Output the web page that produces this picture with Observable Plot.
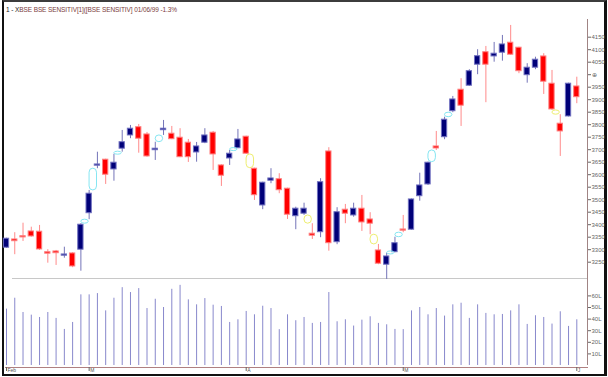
<!DOCTYPE html>
<html><head><meta charset="utf-8">
<script src="https://cdn.jsdelivr.net/npm/d3@7"></script>
<script src="https://cdn.jsdelivr.net/npm/@observablehq/plot@0.6"></script>
<style>
html,body{margin:0;padding:0;background:#fff;}
#wrap{position:relative;width:608px;height:377px;overflow:hidden;background:#fff;font-family:"Liberation Sans",Arial,sans-serif;}
#frame{position:absolute;left:2px;top:0;width:605px;height:376px;box-sizing:border-box;border-top:2px solid #3c3c3c;border-left:2px solid #111;border-right:3px solid #111;border-bottom:2px solid #111;}
#title{position:absolute;left:6px;top:6px;font-size:6.5px;color:#7a3c3c;white-space:nowrap;letter-spacing:-0.1px;}
#title b{font-weight:normal;color:#222;}
#sep{position:absolute;left:12px;top:278px;width:575px;height:1px;background:#c8c8c8;}
#vaxis{position:absolute;left:587px;top:19px;width:1px;height:346px;background:#a08484;}
#haxis{position:absolute;left:5px;top:367px;width:583px;height:1px;background:#b08080;}
svg{position:absolute;left:0;}
</style>
</head><body>
<div id="wrap">
  <div id="frame"></div>
  <div id="title"><b>1 - X</b>BSE BSE SENSITIV[1]([BSE SENSITIV] 01/06/99 -1.3%</div>
  <div id="sep"></div>
  <div id="vaxis"></div>
  <div id="haxis"></div>
</div>
<script>
// ---- data (BSE Sensex daily candles, Feb–Jun 1999) ----
const opens  = [3308,3341,3354,3373,3372,3290,3293,3276,3285,3300,3446,3636,3660,3621,3704,3757,3790,3761,
                3698,3778,3764,3748,3728,3689,3728,3768,3637,3665,3706,3752,3624,3477,3576,3582,3544,3434,
                3444,3364,3370,3693,3330,3460,3437,3464,3421,3297,3240,3290,3381,3380,3514,3561,3713,3750,
                3854,3940,3956,4040,4090,4073,4088,4128,4108,3998,4028,4073,3964,3804,3833,3953];
const highs  = [3346,3368,3406,3390,3397,3300,3297,3310,3288,3404,3537,3690,3662,3682,3777,3797,3801,3769,
                3730,3817,3793,3784,3741,3729,3784,3773,3640,3697,3781,3754,3626,3570,3624,3604,3546,3470,
                3486,3404,3584,3708,3468,3481,3486,3517,3448,3321,3286,3350,3437,3503,3606,3650,3773,3830,
                3913,3984,4020,4100,4113,4129,4157,4197,4110,4044,4070,4084,4017,3840,3966,3990];
const lows   = [3305,3280,3333,3350,3297,3246,3237,3266,3228,3214,3420,3624,3561,3574,3690,3744,3686,3670,
                3657,3757,3740,3668,3649,3650,3724,3617,3553,3637,3704,3681,3497,3460,3564,3524,3421,3380,
                3437,3341,3348,3294,3320,3404,3430,3373,3360,3240,3181,3288,3368,3378,3494,3557,3697,3740,
                3848,3793,3953,4000,3888,4050,4054,4077,4004,3966,4020,3921,3857,3673,3831,3884];
const closes = [3344,3334,3349,3353,3301,3284,3286,3281,3233,3400,3524,3641,3600,3648,3730,3784,3744,3673,
                3704,3784,3742,3670,3670,3713,3757,3681,3596,3684,3741,3684,3518,3568,3585,3538,3440,3464,
                3464,3356,3570,3326,3450,3444,3464,3409,3404,3244,3273,3326,3376,3501,3557,3648,3705,3820,
                3901,3876,4014,4074,4040,4084,4121,4080,4014,4028,4060,3972,3861,3773,3964,3910];
// volume in lakh shares
const volumes = [48.6,58.0,45.7,43.4,41.4,45.7,40.6,31.1,37.1,60.9,60.9,62.0,47.1,58.0,67.1,62.9,66.3,49.1,
                 57.1,50.0,65.7,69.1,56.6,52.3,57.7,52.0,50.9,37.1,39.4,46.6,43.7,51.1,49.1,30.9,43.7,38.6,
                 41.4,36.3,37.1,62.9,37.7,39.4,34.0,39.1,42.0,36.3,35.1,31.1,30.9,47.1,50.0,43.7,49.1,42.6,
                 52.3,53.7,40.6,52.3,44.9,43.7,44.0,47.1,52.3,35.4,42.9,41.4,35.7,46.3,33.7,39.4];
const monthIdx    = [0, 10, 29, 48, 69];
const monthLabels = ["Feb", "M", "A", "M", "J"];
const priceTicks  = d3.range(3250, 4151, 50);
const volumeTicks = [10, 20, 30, 40, 50, 60];

const candles = opens.map((o, i) => ({i, open: o, high: highs[i], low: lows[i], close: closes[i], up: closes[i] >= o}));
const vols = volumes.map((v, i) => ({i, v}));

// gap markers (derived from the candles)
const gaps = [];
for (let i = 0; i < candles.length - 1; i++) {
  const a = candles[i], b = candles[i + 1];
  let lo = null, hi = null, c = null;
  if (b.low > a.high) { lo = a.high; hi = b.low; c = "#86e6f2"; }
  else if (b.high < a.low) { lo = b.high; hi = a.low; c = "#eeee70"; }
  if (c) {
    if (hi - lo < 12) { const m = (hi + lo) / 2; lo = m - 6; hi = m + 6; }
    gaps.push({x: i + 0.5, lo, hi, c});
  }
}

const xDom = [0, 69], xRange = [6, 576.3];
const wrap = document.getElementById("wrap");

const price = Plot.plot({
  width: 608, height: 280,
  marginLeft: 0, marginRight: 21, marginTop: 0, marginBottom: 0,
  style: {fontSize: "6px", fontFamily: "Liberation Sans, Arial, sans-serif", color: "#666", background: "transparent", overflow: "visible"},
  x: {type: "linear", domain: xDom, range: xRange, axis: null},
  y: {domain: [3250, 4150], range: [261.7, 36.7], axis: "right", ticks: priceTicks,
      tickFormat: d => d === 4000 ? "⊕" : String(d), tickSize: 3, tickPadding: 1, label: null},
  marks: [
    Plot.ruleX(candles, {x: "i", y1: "low", y2: "high", stroke: d => d.up ? "#7474b8" : "#ff8a8a", strokeWidth: 1}),
    Plot.rect(candles, {x1: d => d.i - 0.32, x2: d => d.i + 0.32, y1: "open", y2: "close",
      fill: d => d.up ? "#000078" : "#ff0000", stroke: d => d.up ? "#7070c0" : "#ff8080", strokeWidth: 1}),
    Plot.rect(gaps, {x1: d => d.x - 0.45, x2: d => d.x + 0.45, y1: "lo", y2: "hi", rx: 4,
      fill: "none", stroke: "c", strokeWidth: 1})
  ]
});
price.style.top = "0px";
wrap.appendChild(price);

const volume = Plot.plot({
  width: 608, height: 94,
  marginLeft: 0, marginRight: 21, marginTop: 0, marginBottom: 7,
  style: {fontSize: "6px", fontFamily: "Liberation Sans, Arial, sans-serif", color: "#666", background: "transparent", overflow: "visible"},
  x: {type: "linear", domain: xDom, range: xRange, axis: "bottom", ticks: monthIdx, tickFormat: () => "", tickSize: 4, label: null},
  y: {domain: [0, 60], range: [85, 15.4], axis: "right", ticks: volumeTicks, tickFormat: d => d + "L", tickSize: 3, tickPadding: 1, label: null},
  marks: [
    Plot.ruleX(vols, {x: "i", y1: 0, y2: "v", stroke: "#8888cc", strokeWidth: 1}),
    Plot.text(monthIdx, {x: d => d, text: (d, i) => monthLabels[i], frameAnchor: "bottom", textAnchor: "start",
      lineAnchor: "top", dx: 1, dy: 0.5, fontSize: 5, fill: "#555"})
  ]
});
volume.style.top = "280px";
wrap.appendChild(volume);
</script>
</body></html>
